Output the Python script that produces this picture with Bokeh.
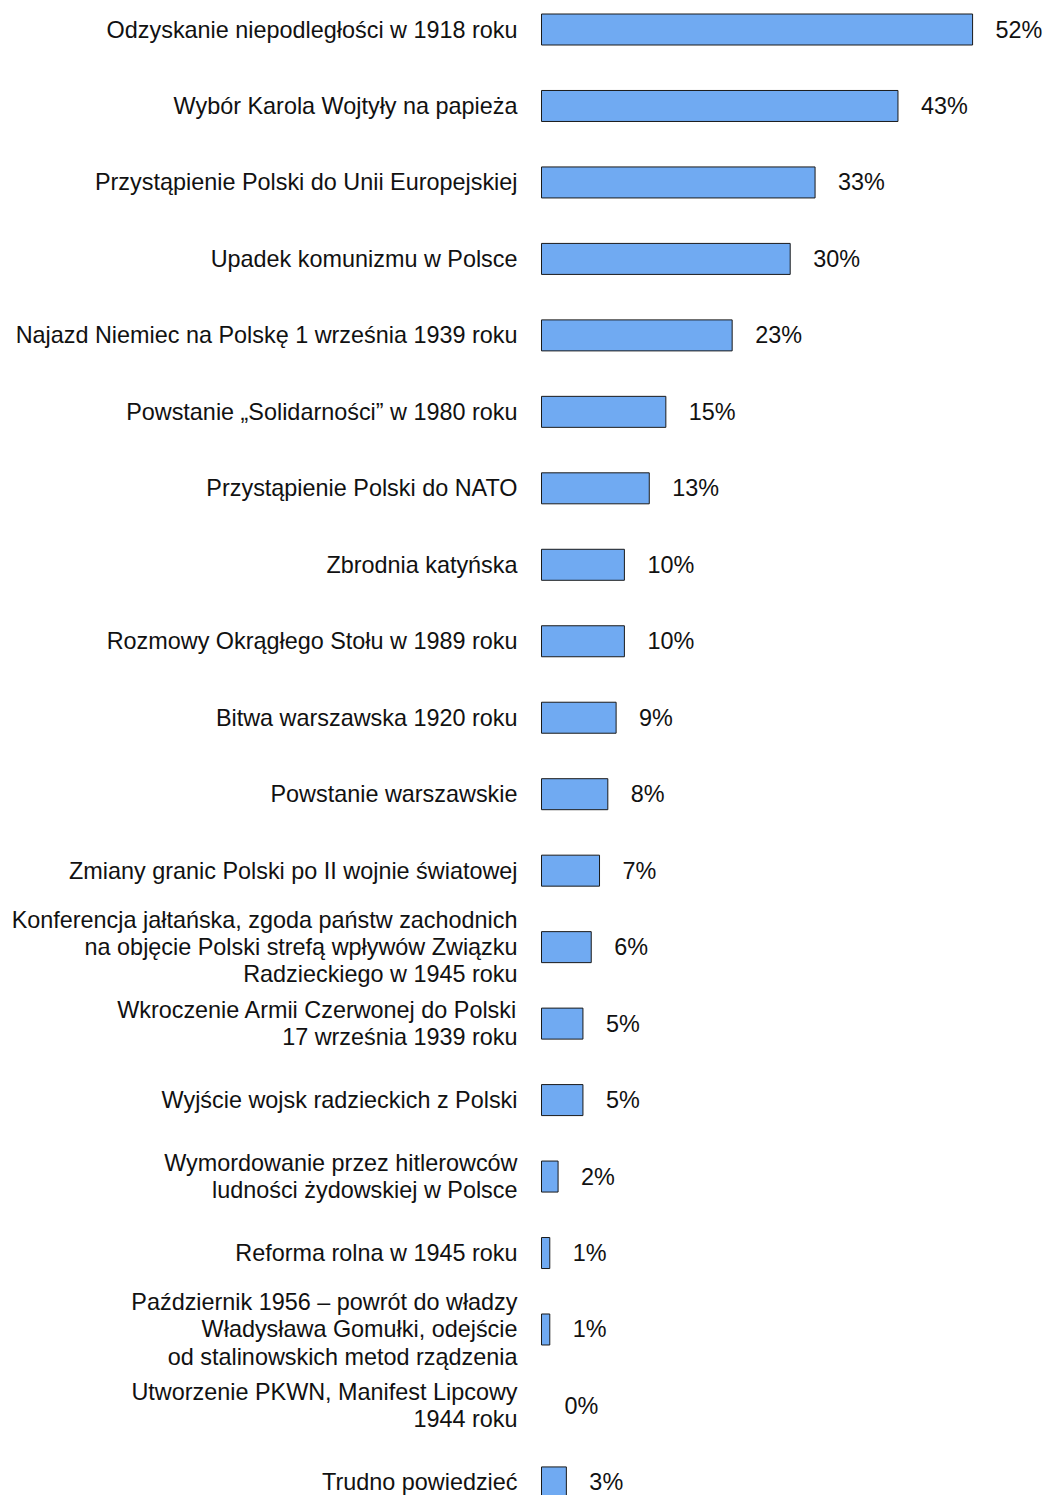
from bokeh.plotting import figure
from bokeh.models import ColumnDataSource, Range1d
from bokeh.core.properties import value
from bokeh.embed import file_html
from bokeh.resources import INLINE

labels = [
    "Odzyskanie niepodległości w 1918 roku",
    "Wybór Karola Wojtyły na papieża",
    "Przystąpienie Polski do Unii Europejskiej",
    "Upadek komunizmu w Polsce",
    "Najazd Niemiec na Polskę 1 września 1939 roku",
    "Powstanie \u201eSolidarności\u201d w 1980 roku",
    "Przystąpienie Polski do NATO",
    "Zbrodnia katyńska",
    "Rozmowy Okrągłego Stołu w 1989 roku",
    "Bitwa warszawska 1920 roku",
    "Powstanie warszawskie",
    "Zmiany granic Polski po II wojnie światowej",
    "Konferencja jałtańska, zgoda państw zachodnich\nna objęcie Polski strefą wpływów Związku\nRadzieckiego w 1945 roku",
    "Wkroczenie Armii Czerwonej do Polski\n17 września 1939 roku",
    "Wyjście wojsk radzieckich z Polski",
    "Wymordowanie przez hitlerowców\nludności żydowskiej w Polsce",
    "Reforma rolna w 1945 roku",
    "Październik 1956 \u2013 powrót do władzy\nWładysława Gomułki, odejście\nod stalinowskich metod rządzenia",
    "Utworzenie PKWN, Manifest Lipcowy\n1944 roku",
    "Trudno powiedzieć",
]
values = [52, 43, 33, 30, 23, 15, 13, 10, 10, 9, 8, 7, 6, 5, 5, 2, 1, 1, 0, 3]

rows = list(range(len(labels)))
value_texts = [f"{v}%" for v in values]

W, H = 1045, 1495
px_per = 8.29
x0_screen = 541
xmin = -x0_screen / px_per
xmax = xmin + W / px_per
row_h = 76.47
top_val = (0 - 29) / row_h
bot_val = (H - 29) / row_h

p = figure(width=W, height=H, output_backend="svg", toolbar_location=None,
           x_range=Range1d(xmin, xmax), y_range=Range1d(bot_val, top_val),
           min_border=0, min_border_left=0, min_border_right=0,
           min_border_top=0, min_border_bottom=0)
p.axis.visible = False
p.grid.visible = False
p.outline_line_color = None
p.background_fill_color = "white"
p.border_fill_color = "white"

bar_rows = [r for r, v in zip(rows, values) if v > 0]
bar_vals = [v for v in values if v > 0]
bsrc = ColumnDataSource(dict(y=bar_rows, right=bar_vals))
p.hbar(y="y", left=0, right="right", height=31 / row_h, source=bsrc,
       fill_color="#70aaf2", line_color="#1a1a1a", line_width=1)

src = ColumnDataSource(dict(y=rows, v=values, lab=labels, vt=value_texts))
p.text(x=0, y="y", text="lab", source=src, x_offset=-24,
       text_align="right", text_baseline="middle",
       text_font=value("Liberation Sans"), text_font_size="23.4px",
       text_color="#111111", text_line_height=1.04)
p.text(x="v", y="y", text="vt", source=src, x_offset=23,
       text_align="left", text_baseline="middle",
       text_font=value("Liberation Sans"), text_font_size="23.4px",
       text_color="#111111")

open("out.html", "w").write(file_html(p, INLINE))
